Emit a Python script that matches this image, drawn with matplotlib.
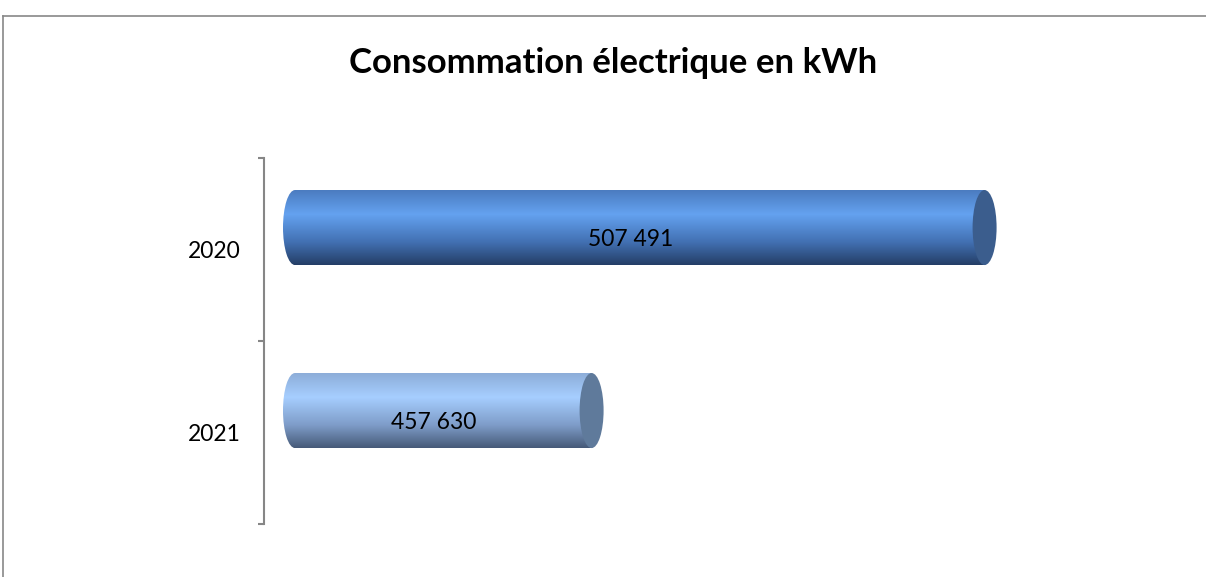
import matplotlib
matplotlib.use("Agg")
import matplotlib.pyplot as plt
import numpy as np
from matplotlib.patches import Ellipse, Rectangle
from matplotlib.lines import Line2D

plt.rcParams["font.family"] = ["Lato", "DejaVu Sans"]

years = ["2020", "2021"]
consumption = [507491, 457630]

x_min, x_max = 420000, 530000
cyl_h = 0.41          # cylinder thickness, in category units
cyl_shift = -0.12     # cylinders sit a bit above the band centre
cap_w = 3045          # ellipse width of the end caps, in kWh units

# vertical shading of each cylinder (top -> bottom) and colour of its end face
shades = [
    [(0.00, (74, 122, 190)), (0.33, (100, 162, 240)), (0.70, (66, 112, 178)), (1.00, (36, 62, 102))],
    [(0.00, (140, 172, 215)), (0.33, (166, 206, 255)), (0.70, (126, 156, 200)), (1.00, (70, 90, 120))],
]
cap_colors = ["#3b5d8d", "#5f7a9b"]


def gradient(stops, n=200):
    pos = np.array([s[0] for s in stops])
    rgb = np.array([s[1] for s in stops], dtype=float) / 255
    t = np.linspace(0, 1, n)
    cols = np.stack([np.interp(t, pos, rgb[:, k]) for k in range(3)], axis=1)
    return cols[:, None, :]


fig = plt.figure(figsize=(12.06, 5.77), dpi=100)
ax = fig.add_axes([295 / 1206, 53 / 577, 867 / 1206, 366 / 577])

for i, (year, val) in enumerate(zip(years, consumption)):
    yc = i + cyl_shift
    top, bottom = yc - cyl_h / 2, yc + cyl_h / 2
    img = gradient(shades[i])
    # body: rectangle part plus rounded left end
    body = Rectangle((x_min, top), val - x_min, cyl_h, transform=ax.transData)
    im = ax.imshow(img, extent=(x_min - cap_w / 2, val, bottom, top),
                   origin="upper", aspect="auto", zorder=2)
    im.set_clip_path(body)
    left_end = Ellipse((x_min, yc), cap_w, cyl_h, transform=ax.transData)
    im2 = ax.imshow(img, extent=(x_min - cap_w / 2, val, bottom, top),
                    origin="upper", aspect="auto", zorder=2)
    im2.set_clip_path(left_end)
    im2.set_clip_box(fig.bbox)
    ax.add_patch(Ellipse((val, yc), cap_w, cyl_h, facecolor=cap_colors[i],
                         edgecolor="none", zorder=3))
    ax.text((x_min + val) / 2 - 1200, yc + 0.065, f"{val:,}".replace(",", " "),
            ha="center", va="center", fontsize=16.5, zorder=4)

ax.set_xlim(x_min, x_max)
ax.set_ylim(1.5, -0.5)

for side in ("top", "right", "bottom"):
    ax.spines[side].set_visible(False)
ax.spines["left"].set_position(("outward", 22.3))
ax.spines["left"].set_color("#868686")
ax.spines["left"].set_linewidth(1.5)

ax.set_xticks([])
ax.set_yticks([-0.5, 0.5, 1.5])
ax.set_yticklabels([])
ax.tick_params(axis="y", which="major", length=4.3, width=1.5, color="#868686")
ax.set_yticks([0, 1], minor=True)
ax.set_yticklabels(years, minor=True, fontsize=16.5)
ax.tick_params(axis="y", which="minor", length=0, pad=17)
ax.patch.set_visible(False)

# chart frame (continues past the right and bottom edges)
fig.add_artist(Line2D([3.5 / 1206, 3.5 / 1206], [0, 1 - 15.5 / 577],
                      transform=fig.transFigure, color="#888888", lw=1.2))
fig.add_artist(Line2D([3.5 / 1206, 1], [1 - 15.5 / 577, 1 - 15.5 / 577],
                      transform=fig.transFigure, color="#888888", lw=1.2))

fig.text(613 / 1206, 1 - 63 / 577, "Consommation électrique en kWh",
         ha="center", va="center", fontsize=25, fontweight="bold")

fig.savefig("out.png", dpi=100)
